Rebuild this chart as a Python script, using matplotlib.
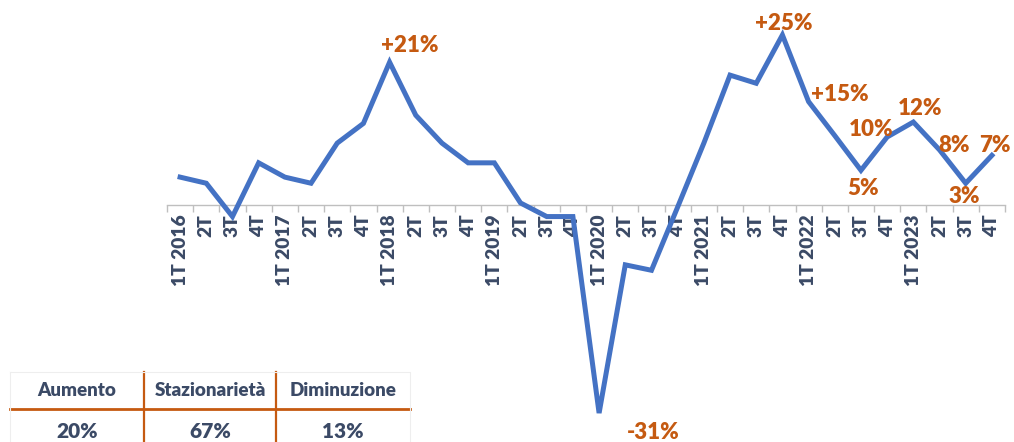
import matplotlib
matplotlib.use('Agg')
import matplotlib.pyplot as plt
from matplotlib.lines import Line2D

# quarterly change, %
quarters = ['1T 2016', '2T', '3T', '4T',
            '1T 2017', '2T', '3T', '4T',
            '1T 2018', '2T', '3T', '4T',
            '1T 2019', '2T', '3T', '4T',
            '1T 2020', '2T', '3T', '4T',
            '1T 2021', '2T', '3T', '4T',
            '1T 2022', '2T', '3T', '4T',
            '1T 2023', '2T', '3T', '4T']
values = [4.1, 3.2, -1.7, 6.2,
          4.1, 3.2, 9.1, 12.0,
          21.0, 13.2, 9.1, 6.2,
          6.2, 0.3, -1.7, -1.7,
          -30.6, -8.8, -9.6, -0.3,
          9.1, 19.1, 17.9, 25.0,
          15.2, 10.2, 5.1, 10.0,
          12.2, 8.1, 3.2, 7.3]

# labelled points: index, text, offset in pixels
lab_idx = [8, 16, 23, 24, 26, 27, 28, 29, 30, 31]
lab_txt = ['+21%', '-31%', '+25%', '+15%', '5%', '10%', '12%', '8%', '3%', '7%']
lab_off = [(20, 17), (54, -19), (1, 12), (31, 7), (2, -18), (-16, 7),
           (7, 14), (15, 4), (-1, -13), (3, 10)]

tab_head = ['Aumento', 'Stazionarietà', 'Diminuzione']
tab_vals = ['20%', '67%', '13%']

blue = '#4472C4'
orange = '#C55A11'
navy = '#3B4A66'
plt.rcParams['font.family'] = ['Lato', 'DejaVu Sans']
wt = 'heavy'

W, H = 1014, 442
fig = plt.figure(figsize=(W / 100, H / 100), dpi=100)
ax = fig.add_axes([167 / W, 0, (1005 - 167) / W, 1])

x = list(range(len(values)))
ax.plot(x, values, color=blue, lw=3.6, solid_joinstyle='miter', zorder=3)

ax.set_xlim(-0.5, len(values) - 0.5)
ax.set_ylim(-(H - 205) / 6.8, 205 / 6.8)

for s in ['top', 'right', 'left']:
    ax.spines[s].set_visible(False)
ax.spines['bottom'].set_position(('data', 0))
ax.spines['bottom'].set_color('#BFBFBF')
ax.spines['bottom'].set_linewidth(1.0)
ax.set_yticks([])

ax.set_xticks(x)
ax.set_xticklabels(quarters, rotation=90, fontsize=13.8, fontweight=wt,
                   color=navy)
ax.tick_params(axis='x', which='major', length=0, pad=7)
ax.set_xticks([i - 0.5 for i in range(len(values) + 1)], minor=True)
ax.tick_params(axis='x', which='minor', length=5, color='#BFBFBF', width=1)

for i, t, (dx, dy) in zip(lab_idx, lab_txt, lab_off):
    ax.annotate(t, (i, values[i]), xytext=(dx, dy), textcoords='offset pixels',
                ha='center', va='center', fontsize=16, fontweight=wt,
                color=orange, zorder=4)

# summary table, bottom left
col_l = [10, 144, 276]
col_r = [144, 276, 410]
for j in range(3):
    cx = (col_l[j] + col_r[j]) / 2 / W
    fig.text(cx, 1 - 390 / H, tab_head[j], ha='center', va='center',
             fontsize=13.5, fontweight=wt, color=navy)
    fig.text(cx, 1 - 431 / H, tab_vals[j], ha='center', va='center',
             fontsize=15, fontweight=wt, color=navy)
fig.add_artist(Line2D([10 / W, 410 / W], [1 - 409 / H] * 2, color=orange, lw=2))
for xv in [144, 276]:
    fig.add_artist(Line2D([xv / W] * 2, [1 - 372 / H, 0], color=orange, lw=1.6))
fig.add_artist(Line2D([10 / W, 410 / W, 410 / W], [1 - 372 / H] * 2 + [0],
                      color='#EEEEEE', lw=0.8))
fig.add_artist(Line2D([10 / W, 10 / W], [1 - 372 / H, 0], color='#EEEEEE', lw=0.8))

fig.savefig('out.png', dpi=100)
